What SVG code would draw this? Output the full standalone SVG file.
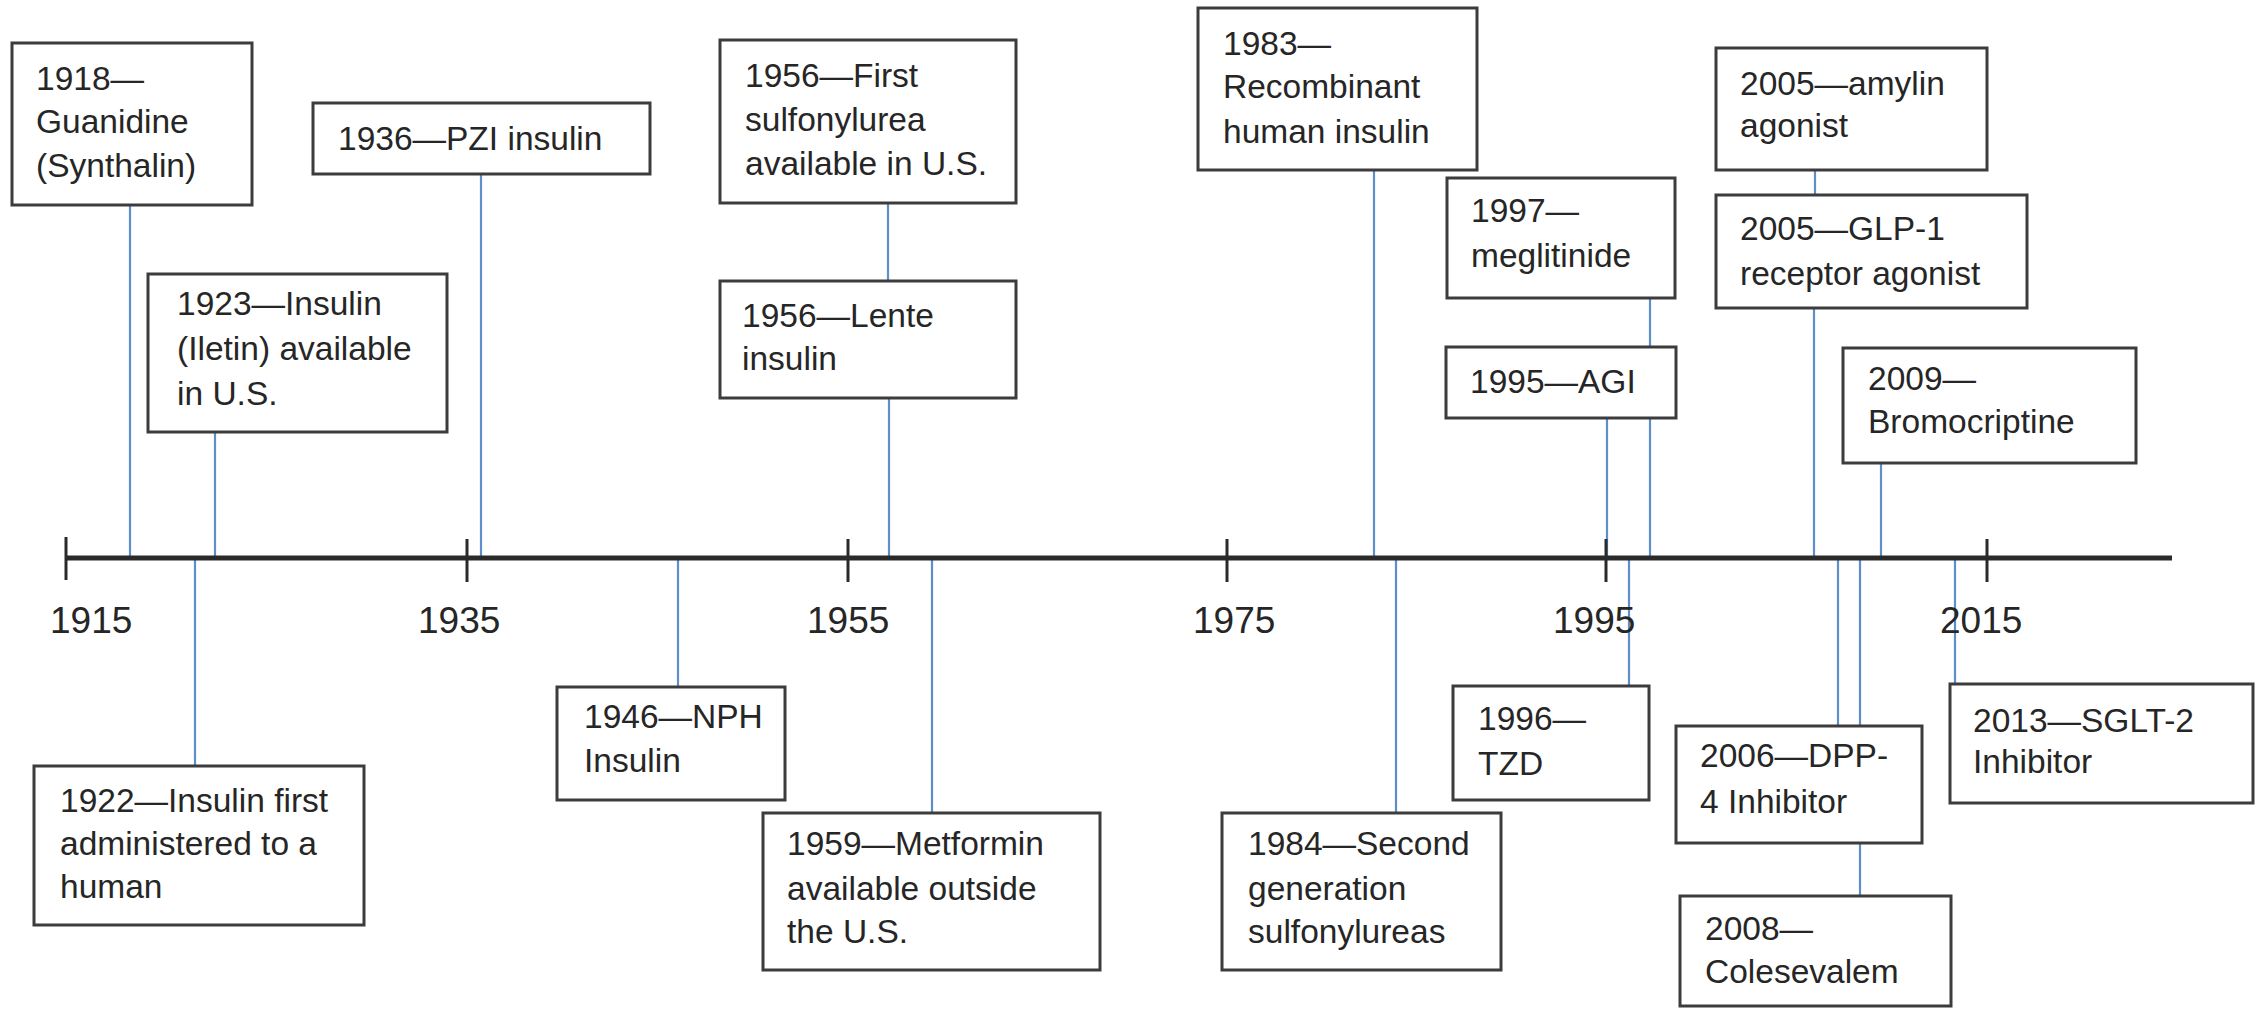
<svg xmlns="http://www.w3.org/2000/svg" width="2259" height="1009" viewBox="0 0 2259 1009">
<style>
.bg{fill:#ffffff}
.box{fill:#ffffff;stroke:#3c3c3c;stroke-width:3}
.t{font-family:"Liberation Sans",Arial,sans-serif;font-size:33.5px;fill:#262626}
.yr{font-family:"Liberation Sans",Arial,sans-serif;font-size:37px;fill:#262626}
.c{stroke:#5f8fc8;stroke-width:2.2;fill:none}
.axis{stroke:#2a2a2a;stroke-width:5;fill:none}
.tick{stroke:#2a2a2a;stroke-width:3;fill:none}
</style>
<rect class="bg" x="0" y="0" width="2259" height="1009"/>
<g id="connectors">
<line class="c" x1="130" y1="205" x2="130" y2="558"/>
<line class="c" x1="215" y1="432" x2="215" y2="558"/>
<line class="c" x1="481" y1="174" x2="481" y2="558"/>
<line class="c" x1="195" y1="558" x2="195" y2="766"/>
<line class="c" x1="678" y1="558" x2="678" y2="687"/>
<line class="c" x1="888" y1="203" x2="888" y2="281"/>
<line class="c" x1="889" y1="398" x2="889" y2="558"/>
<line class="c" x1="932" y1="558" x2="932" y2="813"/>
<line class="c" x1="1374" y1="170" x2="1374" y2="558"/>
<line class="c" x1="1396" y1="558" x2="1396" y2="813"/>
<line class="c" x1="1650" y1="298" x2="1650" y2="558"/>
<line class="c" x1="1607" y1="418" x2="1607" y2="558"/>
<line class="c" x1="1629" y1="558" x2="1629" y2="686"/>
<line class="c" x1="1815" y1="170" x2="1815" y2="195"/>
<line class="c" x1="1814" y1="308" x2="1814" y2="558"/>
<line class="c" x1="1881" y1="463" x2="1881" y2="558"/>
<line class="c" x1="1838" y1="558" x2="1838" y2="726"/>
<line class="c" x1="1860" y1="558" x2="1860" y2="896"/>
<line class="c" x1="1955" y1="558" x2="1955" y2="684"/>
</g>
<g id="axis">
<line class="axis" x1="66" y1="558" x2="2172" y2="558"/>
<line class="tick" x1="66" y1="537" x2="66" y2="580"/>
<line class="tick" x1="467" y1="539" x2="467" y2="582"/>
<line class="tick" x1="848" y1="539" x2="848" y2="582"/>
<line class="tick" x1="1227" y1="539" x2="1227" y2="582"/>
<line class="tick" x1="1606" y1="539" x2="1606" y2="582"/>
<line class="tick" x1="1987" y1="539" x2="1987" y2="582"/>
<text class="yr" x="50" y="633">1915</text>
<text class="yr" x="418" y="633">1935</text>
<text class="yr" x="807" y="633">1955</text>
<text class="yr" x="1193" y="633">1975</text>
<text class="yr" x="1553" y="633">1995</text>
<text class="yr" x="1940" y="633">2015</text>
</g>
<g id="n1918"><rect class="box" x="12" y="43" width="240" height="162"/>
<text class="t" x="36" y="90">1918—</text><text class="t" x="36" y="133">Guanidine</text><text class="t" x="36" y="177">(Synthalin)</text></g>
<g id="n1923"><rect class="box" x="148" y="274" width="299" height="158"/>
<text class="t" x="177" y="315">1923—Insulin</text><text class="t" x="177" y="360">(Iletin) available</text><text class="t" x="177" y="405">in U.S.</text></g>
<g id="n1936"><rect class="box" x="313" y="103" width="337" height="71"/>
<text class="t" x="338" y="150">1936—PZI insulin</text></g>
<g id="n1922"><rect class="box" x="34" y="766" width="330" height="159"/>
<text class="t" x="60" y="812">1922—Insulin first</text><text class="t" x="60" y="855">administered to a</text><text class="t" x="60" y="898">human</text></g>
<g id="n1946"><rect class="box" x="557" y="687" width="228" height="113"/>
<text class="t" x="584" y="728">1946—NPH</text><text class="t" x="584" y="772">Insulin</text></g>
<g id="n1956a"><rect class="box" x="720" y="40" width="296" height="163"/>
<text class="t" x="745" y="87">1956—First</text><text class="t" x="745" y="131">sulfonylurea</text><text class="t" x="745" y="175">available in U.S.</text></g>
<g id="n1956b"><rect class="box" x="720" y="281" width="296" height="117"/>
<text class="t" x="742" y="327">1956—Lente</text><text class="t" x="742" y="370">insulin</text></g>
<g id="n1959"><rect class="box" x="763" y="813" width="337" height="157"/>
<text class="t" x="787" y="855">1959—Metformin</text><text class="t" x="787" y="900">available outside</text><text class="t" x="787" y="943">the U.S.</text></g>
<g id="n1983"><rect class="box" x="1198" y="8" width="279" height="162"/>
<text class="t" x="1223" y="55">1983—</text><text class="t" x="1223" y="98">Recombinant</text><text class="t" x="1223" y="143">human insulin</text></g>
<g id="n1984"><rect class="box" x="1222" y="813" width="279" height="157"/>
<text class="t" x="1248" y="855">1984—Second</text><text class="t" x="1248" y="900">generation</text><text class="t" x="1248" y="943">sulfonylureas</text></g>
<g id="n1997"><rect class="box" x="1447" y="178" width="228" height="120"/>
<text class="t" x="1471" y="222">1997—</text><text class="t" x="1471" y="267">meglitinide</text></g>
<g id="n1995"><rect class="box" x="1446" y="347" width="230" height="71"/>
<text class="t" x="1470" y="393">1995—AGI</text></g>
<g id="n1996"><rect class="box" x="1453" y="686" width="196" height="114"/>
<text class="t" x="1478" y="730">1996—</text><text class="t" x="1478" y="775">TZD</text></g>
<g id="n2005a"><rect class="box" x="1716" y="48" width="271" height="122"/>
<text class="t" x="1740" y="95">2005—amylin</text><text class="t" x="1740" y="137">agonist</text></g>
<g id="n2005b"><rect class="box" x="1716" y="195" width="311" height="113"/>
<text class="t" x="1740" y="240">2005—GLP-1</text><text class="t" x="1740" y="285">receptor agonist</text></g>
<g id="n2009"><rect class="box" x="1843" y="348" width="293" height="115"/>
<text class="t" x="1868" y="390">2009—</text><text class="t" x="1868" y="433">Bromocriptine</text></g>
<g id="n2006"><rect class="box" x="1676" y="726" width="246" height="117"/>
<text class="t" x="1700" y="767">2006—DPP-</text><text class="t" x="1700" y="813">4 Inhibitor</text></g>
<g id="n2008"><rect class="box" x="1680" y="896" width="271" height="110"/>
<text class="t" x="1705" y="940">2008—</text><text class="t" x="1705" y="983">Colesevalem</text></g>
<g id="n2013"><rect class="box" x="1950" y="684" width="303" height="119"/>
<text class="t" x="1973" y="732">2013—SGLT-2</text><text class="t" x="1973" y="773">Inhibitor</text></g>
</svg>
